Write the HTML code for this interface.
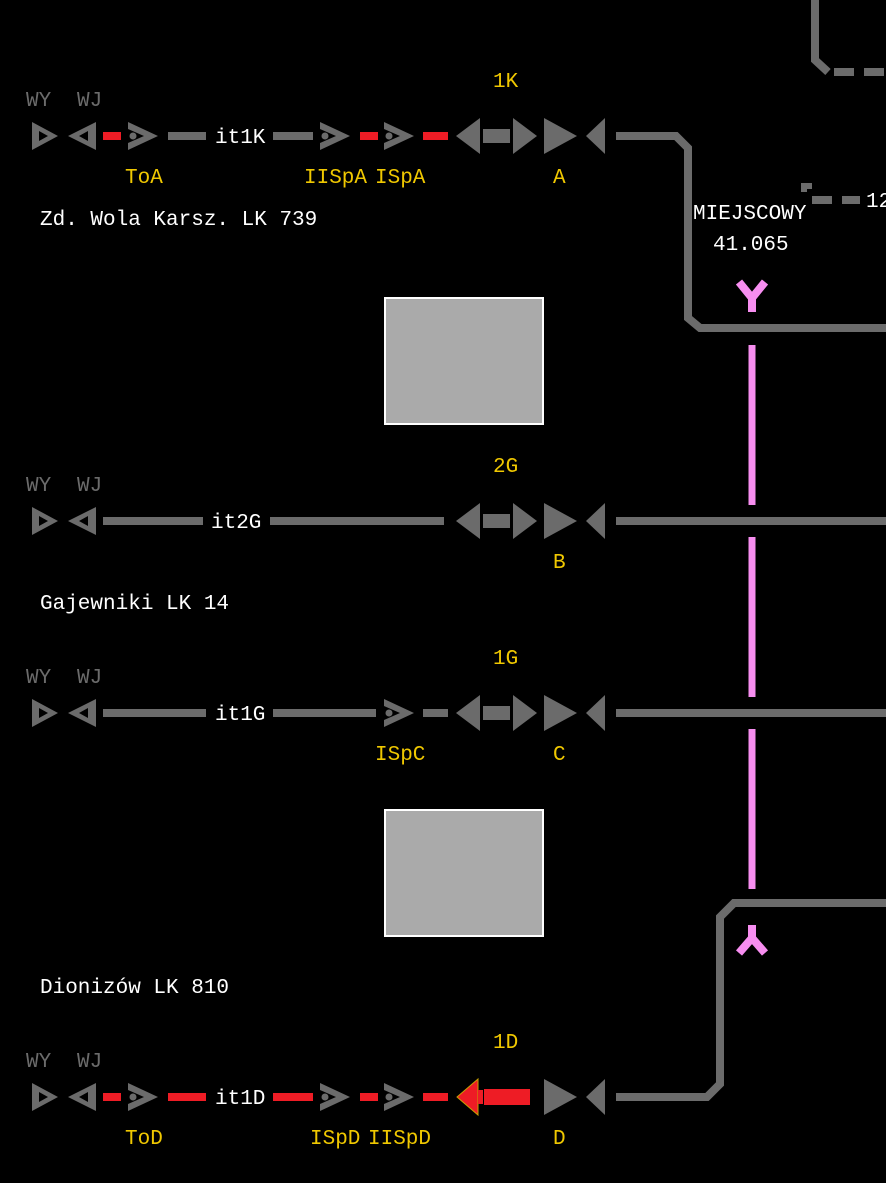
<!DOCTYPE html>
<html><head><meta charset="utf-8"><style>
html,body{margin:0;padding:0;background:#000;width:886px;height:1183px;overflow:hidden}
svg text{font-family:"Liberation Mono","DejaVu Sans Mono",monospace;font-size:21px}
.w{fill:#fff}.y{fill:#f0c800}.g{fill:#6b6b6b}
</style></head><body>
<svg width="886" height="1183" viewBox="0 0 886 1183" xmlns="http://www.w3.org/2000/svg">
<defs>
<g id="wywj" fill="#6b6b6b">
<path fill-rule="evenodd" d="M32,-14 L58,0 L32,14 Z M39,-5 L48,0 L39,5 Z"/>
<path fill-rule="evenodd" d="M96,-14 L68,0 L96,14 Z M88,-5 L79,0 L88,5 Z"/>
</g>
<g id="sh" fill="#6b6b6b"><path d="M0,-14 L30,0 L0,14 L0,7 L16,0 L0,-7 Z"/><circle cx="5" cy="0" r="3.5"/></g>
<g id="end" fill="#6b6b6b">
<polygon points="480,-18 456,0 480,18"/><rect x="483" y="-7" width="27" height="14"/><polygon points="513,-18 537,0 513,18"/>
<polygon points="544,-18 577,0 544,18"/><polygon points="605,-18 586,0 605,18"/>
</g>
</defs>

<!-- top right -->
<path d="M815,0 V60 L828,72" stroke="#6b6b6b" stroke-width="8" fill="none"/>
<line x1="834" y1="72" x2="886" y2="72" stroke="#6b6b6b" stroke-width="8" stroke-dasharray="20,10"/>
<path d="M804,192 V186 H812" stroke="#6b6b6b" stroke-width="6" fill="none"/>
<line x1="812" y1="200" x2="860" y2="200" stroke="#6b6b6b" stroke-width="8" stroke-dasharray="20,10"/>
<text x="866" y="207" class="w">12</text>

<!-- row 1K -->
<g transform="translate(0,136)">
<use href="#wywj"/>
<rect x="103" y="-4" width="18" height="8" fill="#ee1c25"/>
<use href="#sh" x="128"/>
<rect x="168" y="-4" width="38" height="8" fill="#6b6b6b"/>
<rect x="273" y="-4" width="40" height="8" fill="#6b6b6b"/>
<use href="#sh" x="320"/>
<rect x="360" y="-4" width="18" height="8" fill="#ee1c25"/>
<use href="#sh" x="384"/>
<rect x="423" y="-4" width="25" height="8" fill="#ee1c25"/>
<use href="#end"/>
</g>
<path d="M616,136 H676 L688,148 V318 L700,328 H886" stroke="#6b6b6b" stroke-width="8" fill="none"/>
<text x="26" y="106" class="g">WY</text><text x="77" y="106" class="g">WJ</text>
<text x="215" y="143" class="w">it1K</text>
<text x="493" y="87" class="y">1K</text>
<text x="125" y="183" class="y">ToA</text>
<text x="304" y="183" class="y">IISpA</text>
<text x="375" y="183" class="y">ISpA</text>
<text x="553" y="183" class="y">A</text>
<text x="40" y="225" class="w">Zd. Wola Karsz. LK 739</text>
<text x="693" y="219" class="w">MIEJSCOWY</text>
<text x="713" y="250" class="w">41.065</text>

<!-- pink -->
<path d="M739,282 L752,298 L765,282 M752,296 V312" stroke="#f78ef0" stroke-width="8" fill="none"/>
<line x1="752" y1="345" x2="752" y2="889" stroke="#f78ef0" stroke-width="7" stroke-dasharray="160,32"/>
<path d="M752,925 V938 L739,953 M752,938 L765,953" stroke="#f78ef0" stroke-width="8" fill="none"/>

<rect x="385" y="298" width="158" height="126" fill="#aaa" stroke="#fff" stroke-width="2"/>
<rect x="385" y="810" width="158" height="126" fill="#aaa" stroke="#fff" stroke-width="2"/>

<!-- row 2G -->
<g transform="translate(0,521)">
<use href="#wywj"/>
<rect x="103" y="-4" width="100" height="8" fill="#6b6b6b"/>
<rect x="270" y="-4" width="174" height="8" fill="#6b6b6b"/>
<use href="#end"/>
<rect x="616" y="-4" width="270" height="8" fill="#6b6b6b"/>
</g>
<text x="26" y="491" class="g">WY</text><text x="77" y="491" class="g">WJ</text>
<text x="211" y="528" class="w">it2G</text>
<text x="493" y="472" class="y">2G</text>
<text x="553" y="568" class="y">B</text>
<text x="40" y="609" class="w">Gajewniki LK 14</text>

<!-- row 1G -->
<g transform="translate(0,713)">
<use href="#wywj"/>
<rect x="103" y="-4" width="103" height="8" fill="#6b6b6b"/>
<rect x="273" y="-4" width="103" height="8" fill="#6b6b6b"/>
<use href="#sh" x="384"/>
<rect x="423" y="-4" width="25" height="8" fill="#6b6b6b"/>
<use href="#end"/>
<rect x="616" y="-4" width="270" height="8" fill="#6b6b6b"/>
</g>
<text x="26" y="683" class="g">WY</text><text x="77" y="683" class="g">WJ</text>
<text x="215" y="720" class="w">it1G</text>
<text x="493" y="664" class="y">1G</text>
<text x="375" y="760" class="y">ISpC</text>
<text x="553" y="760" class="y">C</text>

<text x="40" y="993" class="w">Dionizów LK 810</text>

<!-- row 1D -->
<g transform="translate(0,1097)">
<use href="#wywj"/>
<rect x="103" y="-4" width="18" height="8" fill="#ee1c25"/>
<use href="#sh" x="128"/>
<rect x="168" y="-4" width="38" height="8" fill="#ee1c25"/>
<rect x="273" y="-4" width="40" height="8" fill="#ee1c25"/>
<use href="#sh" x="320"/>
<rect x="360" y="-4" width="18" height="8" fill="#ee1c25"/>
<use href="#sh" x="384"/>
<rect x="423" y="-4" width="25" height="8" fill="#ee1c25"/>
<polygon points="478,-18 457,0 478,18" fill="#ee1c25" stroke="#c8a000" stroke-width="1"/>
<rect x="478" y="-7" width="5" height="14" fill="#ee1c25"/>
<rect x="484" y="-8" width="46" height="16" fill="#ee1c25"/>
<polygon points="544,-18 577,0 544,18" fill="#6b6b6b"/>
<polygon points="605,-18 586,0 605,18" fill="#6b6b6b"/>
</g>
<path d="M616,1097 H707 L720,1084 V917 L734,903 H886" stroke="#6b6b6b" stroke-width="8" fill="none"/>
<text x="26" y="1067" class="g">WY</text><text x="77" y="1067" class="g">WJ</text>
<text x="215" y="1104" class="w">it1D</text>
<text x="493" y="1048" class="y">1D</text>
<text x="125" y="1144" class="y">ToD</text>
<text x="310" y="1144" class="y">ISpD</text>
<text x="368" y="1144" class="y">IISpD</text>
<text x="553" y="1144" class="y">D</text>
</svg>
</body></html>
